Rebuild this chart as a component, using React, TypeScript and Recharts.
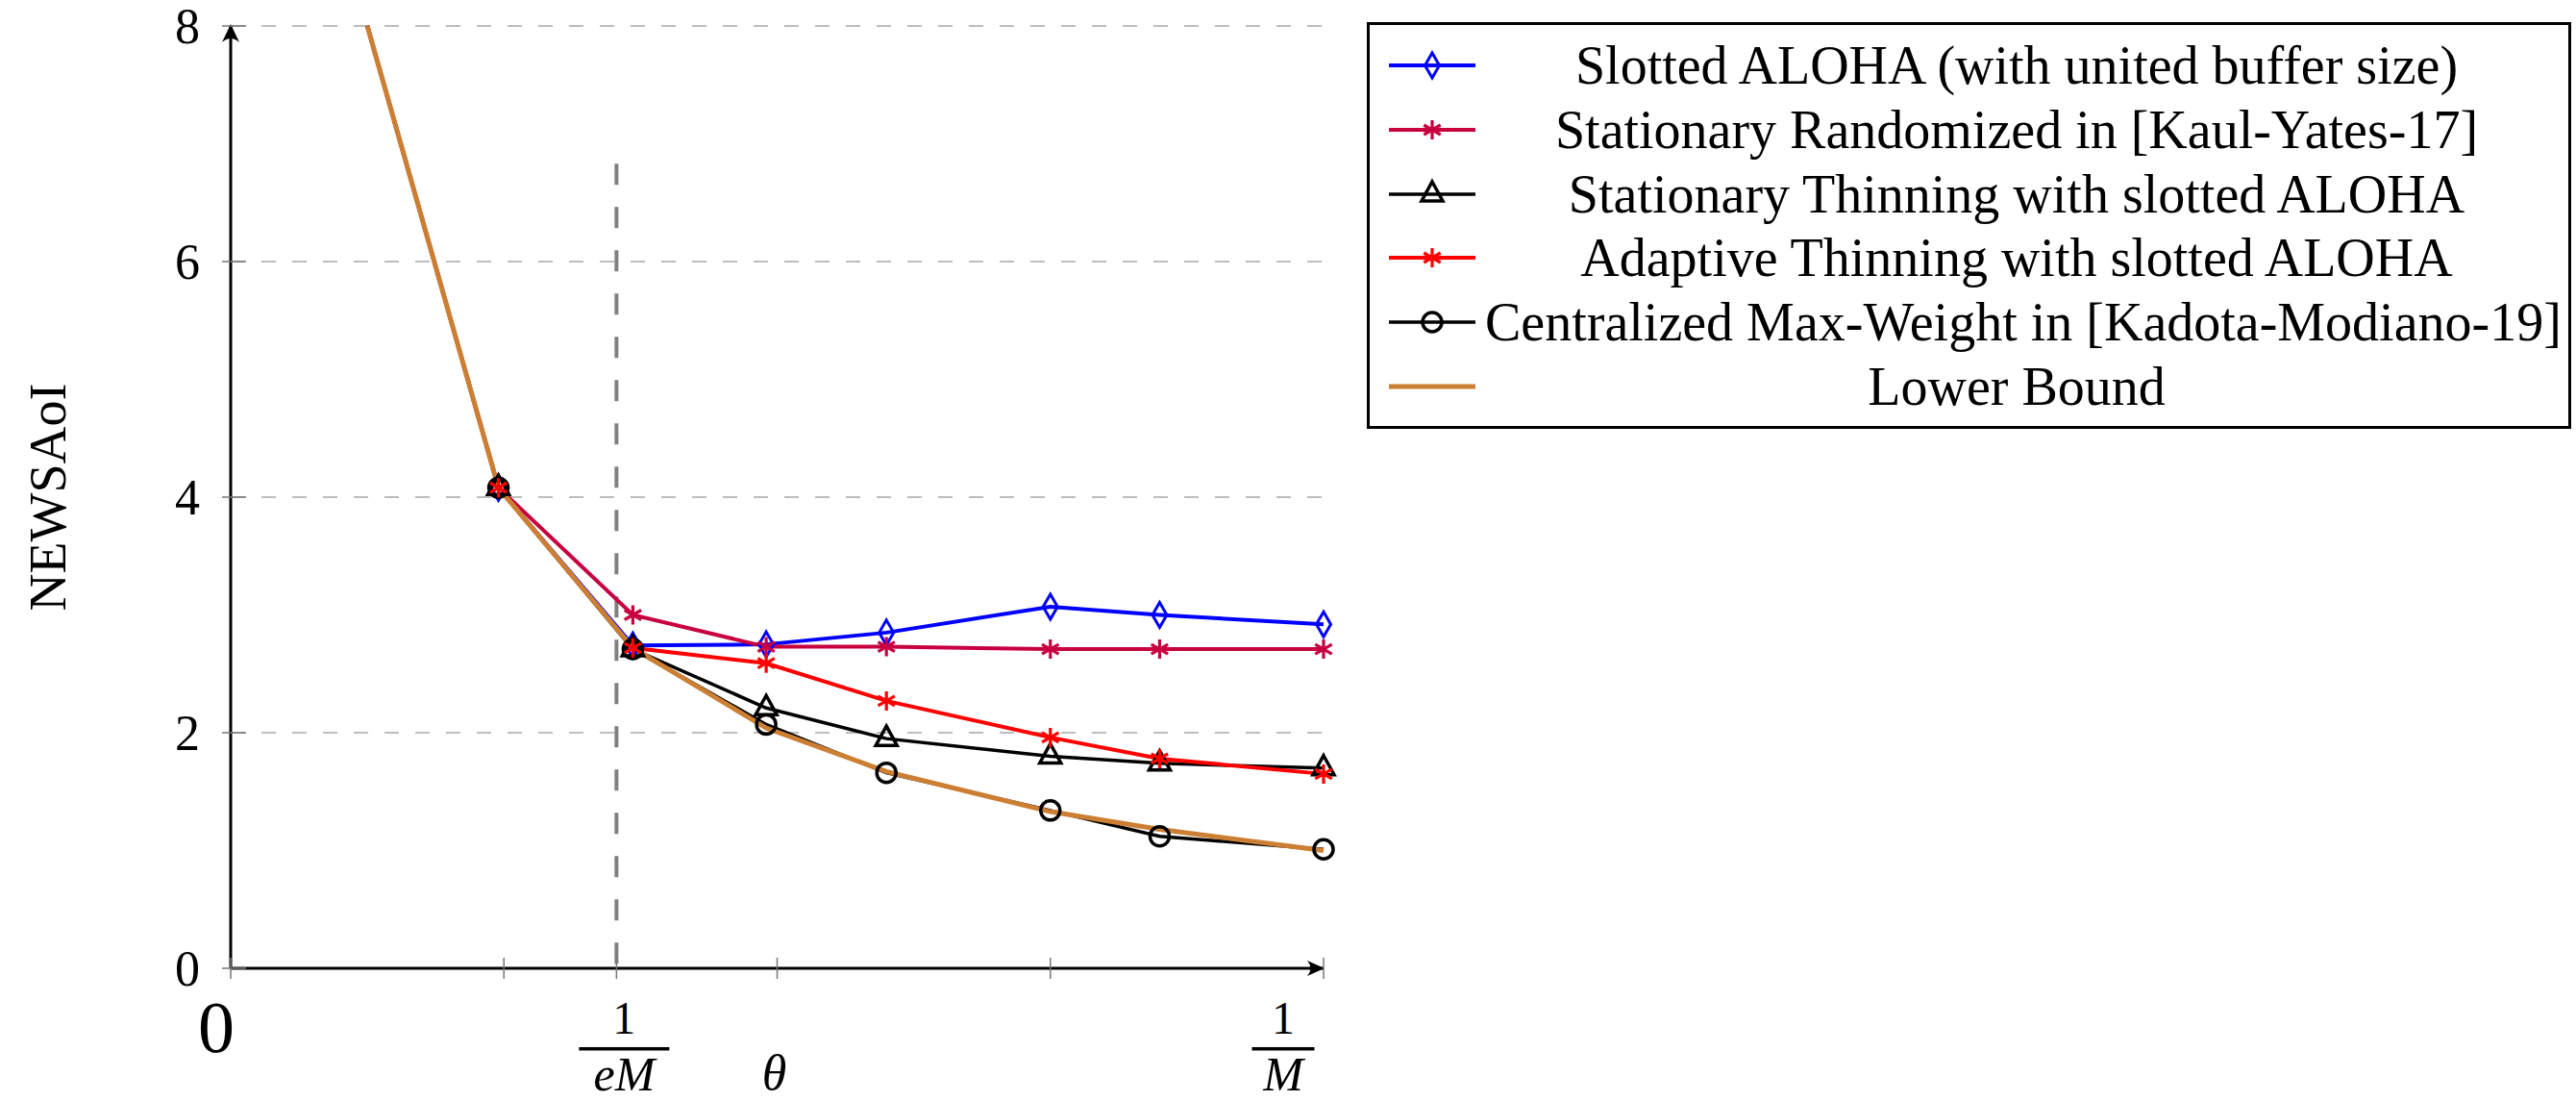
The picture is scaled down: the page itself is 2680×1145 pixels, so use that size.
import {
  CartesianGrid,
  Legend,
  Line,
  LineChart,
  ReferenceDot,
  ReferenceLine,
  XAxis,
  YAxis,
} from "recharts";

// theta values, 1/M normalised to 1
const theta = [0.125, 0.245, 0.368, 0.49, 0.6, 0.75, 0.85, 1.0];

const slottedAloha = [8, 4.08, 2.74, 2.75, 2.85, 3.07, 3.0, 2.92];
const statRandomized = [8, 4.08, 3.0, 2.73, 2.73, 2.71, 2.71, 2.71];
const statThinning = [8, 4.08, 2.71, 2.21, 1.95, 1.8, 1.74, 1.7];
const adaptiveThinning = [8, 4.08, 2.72, 2.59, 2.27, 1.96, 1.78, 1.65];
const centralizedMW = [8, 4.08, 2.71, 2.07, 1.66, 1.34, 1.12, 1.01];
const lowerBound = [8, 4.08, 2.72, 2.04, 1.67, 1.33, 1.18, 1.0];

const yTicks = [0, 2, 4, 6, 8];
const eMTick = 0.353; // 1/(eM)
const xTicks = [0, 0.25, eMTick, 0.5, 0.75, 1];

const FONT = '"Liberation Serif", "Times New Roman", serif';

type Marker = "diamond" | "star" | "triangle" | "circle" | "none";

const series: {
  key: string;
  name: string;
  color: string;
  marker: Marker;
  width: number;
  values: number[];
}[] = [
  { key: "slotted", name: "Slotted ALOHA (with united buffer size)", color: "#0000ff", marker: "diamond", width: 4, values: slottedAloha },
  { key: "randomized", name: "Stationary Randomized in [Kaul-Yates-17]", color: "#c8003f", marker: "star", width: 4, values: statRandomized },
  { key: "thinning", name: "Stationary Thinning with slotted ALOHA", color: "#000000", marker: "triangle", width: 3.5, values: statThinning },
  { key: "adaptive", name: "Adaptive Thinning with slotted ALOHA", color: "#ff0000", marker: "star", width: 4, values: adaptiveThinning },
  { key: "centralized", name: "Centralized Max-Weight in [Kadota-Modiano-19]", color: "#000000", marker: "circle", width: 3.5, values: centralizedMW },
  { key: "lower", name: "Lower Bound", color: "#cc7f33", marker: "none", width: 5, values: lowerBound },
];

// markers go on top of all lines; red stars last
const markerOrder = ["slotted", "randomized", "thinning", "centralized", "adaptive"];

const data = theta.map((t, i) => {
  const row: Record<string, number> = { theta: t };
  series.forEach((s) => (row[s.key] = s.values[i]));
  return row;
});

function MarkerShape({ kind, cx, cy, color }: { kind: Marker; cx: number; cy: number; color: string }) {
  if (kind === "diamond")
    return (
      <path
        d={`M${cx},${cy - 13}L${cx + 7.5},${cy}L${cx},${cy + 13}L${cx - 7.5},${cy}Z`}
        fill="none"
        stroke={color}
        strokeWidth={3}
      />
    );
  if (kind === "star")
    return (
      <path
        d={`M${cx},${cy - 10}L${cx},${cy + 10}M${cx - 8.7},${cy - 5}L${cx + 8.7},${cy + 5}M${cx - 8.7},${cy + 5}L${cx + 8.7},${cy - 5}`}
        stroke={color}
        strokeWidth={3.2}
      />
    );
  if (kind === "triangle")
    return (
      <path
        d={`M${cx},${cy - 13}L${cx + 11},${cy + 7}L${cx - 11},${cy + 7}Z`}
        fill="none"
        stroke={color}
        strokeWidth={3.5}
      />
    );
  if (kind === "circle")
    return <circle cx={cx} cy={cy} r={10} fill="none" stroke={color} strokeWidth={3.5} />;
  return null;
}

const YTick = (props: any) => {
  const { x, y, payload } = props;
  return (
    <g>
      <line x1={x - 9} x2={x + 16} y1={y} y2={y} stroke="#777" strokeWidth={1.5} />
      <text x={x - 32} y={y} textAnchor="end" dominantBaseline="central" fontFamily={FONT} fontSize={52} fill="#000">
        {payload.value}
      </text>
    </g>
  );
};

// stacked fraction 1 over den
const Frac = ({ cx, y, den, barW }: { cx: number; y: number; den: string; barW: number }) => (
  <g fill="#000" fontFamily={FONT}>
    <text x={cx} y={y + 68} textAnchor="middle" fontSize={48}>
      1
    </text>
    <rect x={cx - barW / 2} y={y + 82} width={barW} height={3.5} fill="#000" />
    <text x={cx} y={y + 127} textAnchor="middle" fontSize={50} fontStyle="italic">
      {den}
    </text>
  </g>
);

const XTick = (props: any) => {
  const { x, y, payload } = props;
  const v = payload.value;
  return (
    <g>
      <line x1={x} x2={x} y1={y - 11} y2={y + 11} stroke="#777" strokeWidth={1.5} />
      {v === 0 && (
        <text x={x - 15} y={y + 87} textAnchor="middle" fontFamily={FONT} fontSize={76} fill="#000">
          0
        </text>
      )}
      {v === eMTick && <Frac cx={x + 8} y={y} den="eM" barW={94} />}
      {v === 1 && <Frac cx={x - 42} y={y} den="M" barW={65} />}
    </g>
  );
};

const UpArrow = (p: any) => (
  <path
    d={`M${p.cx},${p.cy - 2}L${p.cx - 9},${p.cy + 17}Q${p.cx},${p.cy + 9} ${p.cx + 9},${p.cy + 17}Z`}
    fill="#000"
  />
);

const RightArrow = (p: any) => (
  <path
    d={`M${p.cx + 1},${p.cy}L${p.cx - 17},${p.cy - 8}Q${p.cx - 10},${p.cy} ${p.cx - 17},${p.cy + 8}Z`}
    fill="#000"
  />
);

const renderLegend = () => (
  <div
    style={{
      width: 1253,
      height: 423,
      border: "3px solid #000",
      boxSizing: "border-box",
      background: "#fff",
      position: "relative",
      fontFamily: FONT,
    }}
  >
    {series.map((s, i) => {
      const top = 9 + i * 66.8;
      return (
        <div key={s.key} style={{ position: "absolute", left: 0, top, width: "100%", height: 66 }}>
          <svg width={120} height={66} style={{ position: "absolute", left: 0, top: 0 }}>
            <line x1={20} x2={110} y1={33} y2={33} stroke={s.color} strokeWidth={s.width} />
            <MarkerShape kind={s.marker} cx={65} cy={33} color={s.color} />
          </svg>
          <div
            style={{
              position: "absolute",
              left: 120,
              width: 1106,
              top: 0,
              height: 66,
              lineHeight: "66px",
              textAlign: "center",
              fontSize: 56,
              whiteSpace: "nowrap",
              color: "#000",
            }}
          >
            {s.name}
          </div>
        </div>
      );
    })}
  </div>
);

export default function App() {
  return (
    <div style={{ position: "absolute", left: 0, top: 0, background: "#fff" }}>
      <LineChart
        width={2680}
        height={1145}
        data={data}
        margin={{ top: 27, right: 1303, bottom: 0, left: 0 }}
      >
        <CartesianGrid vertical={false} stroke="#bdbdbd" strokeWidth={2} strokeDasharray="15 17" />
        <XAxis
          type="number"
          dataKey="theta"
          domain={[0, 1]}
          ticks={xTicks}
          interval={0}
          height={138}
          tickSize={0}
          tickMargin={0}
          tickLine={false}
          tick={<XTick />}
          axisLine={{ stroke: "#000", strokeWidth: 3 }}
          label={{
            content: (p: any) => (
              <text
                x={p.viewBox.x + p.viewBox.width / 2 - 3}
                y={p.viewBox.y + 126}
                textAnchor="middle"
                fontFamily={FONT}
                fontStyle="italic"
                fontSize={52}
                fill="#000"
              >
                θ
              </text>
            ),
          }}
        />
        <YAxis
          type="number"
          domain={[0, 8]}
          ticks={yTicks}
          interval={0}
          width={240}
          tickSize={0}
          tickMargin={0}
          tickLine={false}
          tick={<YTick />}
          axisLine={{ stroke: "#000", strokeWidth: 3 }}
          label={{
            content: (p: any) => (
              <text
                transform={`translate(50, ${p.viewBox.y + p.viewBox.height / 2}) rotate(-90)`}
                textAnchor="middle"
                dominantBaseline="central"
                fontFamily={FONT}
                fontSize={54}
                fill="#000"
              >
                NEWSAoI
              </text>
            ),
          }}
        />
        <ReferenceLine
          segment={[
            { x: eMTick, y: 6.83 },
            { x: eMTick, y: 0 },
          ]}
          stroke="#808080"
          strokeWidth={4}
          strokeDasharray="22 23"
        />
        {series.map((s) => (
          <Line
            key={s.key}
            type="linear"
            dataKey={s.key}
            name={s.name}
            stroke={s.color}
            strokeWidth={s.width}
            isAnimationActive={false}
            dot={false}
            activeDot={false}
          />
        ))}
        {markerOrder.map((k) => {
          const s = series.find((e) => e.key === k)!;
          return (
            <Line
              key={`${s.key}-marks`}
              type="linear"
              dataKey={s.key}
              stroke="none"
              isAnimationActive={false}
              legendType="none"
              activeDot={false}
              dot={(p: any) =>
                p.index === 0 ? (
                  <g key={`${s.key}-${p.index}`} />
                ) : (
                  <g key={`${s.key}-${p.index}`}>
                    <MarkerShape kind={s.marker} cx={p.cx} cy={p.cy} color={s.color} />
                  </g>
                )
              }
            />
          );
        })}
        <ReferenceDot x={0} y={8} r={0} ifOverflow="visible" shape={UpArrow} />
        <ReferenceDot x={1} y={0} r={0} ifOverflow="visible" shape={RightArrow} />
        <Legend
          layout="vertical"
          align="center"
          verticalAlign="middle"
          content={renderLegend}
          wrapperStyle={{ position: "absolute", left: 1422, top: 23, width: 1253, height: 423 }}
        />
      </LineChart>
    </div>
  );
}
